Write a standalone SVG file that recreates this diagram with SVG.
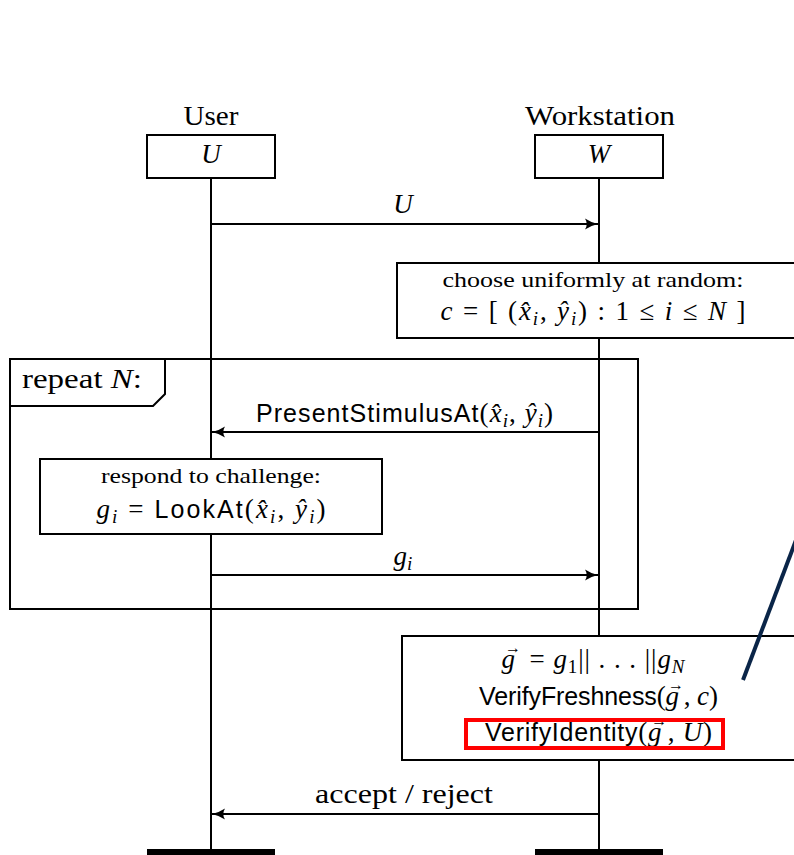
<svg xmlns="http://www.w3.org/2000/svg" width="794" height="855" viewBox="0 0 794 855">
<style>
.ln{stroke:#000;stroke-width:2;fill:none}
.box{stroke:#000;stroke-width:2;fill:#fff}
.rm{font-family:"Liberation Serif","DejaVu Serif",serif;font-size:27px;fill:#000}
.sm{font-family:"Liberation Serif","DejaVu Serif",serif;font-size:22px;fill:#000}
.it{font-style:italic}
.sf{font-family:"Liberation Sans","DejaVu Sans",sans-serif;font-size:25px}
.sub{font-size:19px}
.vec{font-size:16px;font-style:normal}
.bar{stroke:#000;stroke-width:6}
</style>
<defs>
<marker id="ah" viewBox="0 0 14 12" refX="13" refY="6" markerWidth="14" markerHeight="12" markerUnits="userSpaceOnUse" orient="auto">
<path d="M0,0.5 Q6,4.5 13,6 Q6,7.5 0,11.5 Q3.5,6 0,0.5 Z" fill="#000"/>
</marker>
</defs>
<rect width="794" height="855" fill="#fff"/>
<g id="lifelines">
<line class="ln" x1="211" y1="178" x2="211" y2="852"/>
<line class="ln" x1="599" y1="178" x2="599" y2="852"/>
</g>
<g id="user">
<text class="rm" x="211" y="125" text-anchor="middle" textLength="55" lengthAdjust="spacingAndGlyphs">User</text>
<rect class="box" x="147" y="135" width="128" height="43"/>
<text class="rm it" x="211" y="163" text-anchor="middle">U</text>
<line class="bar" x1="147" y1="852" x2="275" y2="852"/>
</g>
<g id="workstation">
<text class="rm" x="600" y="125" text-anchor="middle" textLength="150" lengthAdjust="spacingAndGlyphs">Workstation</text>
<rect class="box" x="535" y="135" width="128" height="43"/>
<text class="rm it" x="599" y="163" text-anchor="middle">W</text>
<line class="bar" x1="535" y1="852" x2="663" y2="852"/>
</g>
<g id="repeat-frame">
<rect x="10" y="359" width="628" height="250" fill="none" stroke="#000" stroke-width="2"/>
<path class="ln" d="M10,406 H153 L165,394 V359"/>
<text class="rm" x="22" y="388" textLength="120" lengthAdjust="spacingAndGlyphs">repeat <tspan class="it">N</tspan>:</text>
</g>
<g id="choose">
<rect class="box" x="397" y="263" width="410" height="75"/>
<text class="sm" x="593" y="287" text-anchor="middle" textLength="301" lengthAdjust="spacingAndGlyphs">choose uniformly at random:</text>
<text class="rm" x="593" y="320" text-anchor="middle" textLength="305" lengthAdjust="spacing"><tspan class="it">c</tspan> = [ (<tspan class="it">x̂</tspan><tspan class="it sub" dy="5">i</tspan><tspan dy="-5">, </tspan><tspan class="it">ŷ</tspan><tspan class="it sub" dy="5">i</tspan><tspan dy="-5">) : 1 ≤ </tspan><tspan class="it">i</tspan> ≤ <tspan class="it">N</tspan> ]</text>
</g>
<g id="respond">
<rect class="box" x="40" y="459" width="342" height="75"/>
<text class="sm" x="211" y="483" text-anchor="middle" textLength="220" lengthAdjust="spacingAndGlyphs">respond to challenge:</text>
<text class="rm" x="211" y="518" text-anchor="middle" textLength="229" lengthAdjust="spacing"><tspan class="it">g</tspan><tspan class="it sub" dy="5">i</tspan><tspan dy="-5"> = </tspan><tspan class="sf">LookAt</tspan>(<tspan class="it">x̂</tspan><tspan class="it sub" dy="5">i</tspan><tspan dy="-5">, </tspan><tspan class="it">ŷ</tspan><tspan class="it sub" dy="5">i</tspan><tspan dy="-5">)</tspan></text>
</g>
<g id="verify">
<rect class="box" x="402" y="636" width="405" height="124"/>
<text class="rm" x="593" y="668" text-anchor="middle" textLength="183" lengthAdjust="spacing"><tspan class="it">g</tspan><tspan class="vec" dx="-11" dy="-15">→</tspan><tspan dy="15"> = </tspan><tspan class="it">g</tspan><tspan class="sub" dy="5">1</tspan><tspan dy="-5">|| . . . ||</tspan><tspan class="it">g</tspan><tspan class="it sub" dy="5">N</tspan></text>
<text class="rm" x="598.5" y="705" text-anchor="middle" textLength="239" lengthAdjust="spacing"><tspan class="sf">VerifyFreshness</tspan>(<tspan class="it">g</tspan><tspan class="vec" dx="-11" dy="-15">→</tspan><tspan dy="15">, </tspan><tspan class="it">c</tspan>)</text>
<text class="rm" x="598.5" y="741" text-anchor="middle" textLength="227" lengthAdjust="spacing"><tspan class="sf">VerifyIdentity</tspan>(<tspan class="it">g</tspan><tspan class="vec" dx="-11" dy="-15">→</tspan><tspan dy="15">, </tspan><tspan class="it">U</tspan>)</text>
<rect x="466" y="720" width="257" height="28" fill="none" stroke="#f00" stroke-width="4"/>
</g>
<g id="connectors">
<line class="ln" x1="211" y1="224" x2="598" y2="224" marker-end="url(#ah)"/>
<text class="rm it" x="403" y="213" text-anchor="middle">U</text>
<line class="ln" x1="599" y1="432" x2="212" y2="432" marker-end="url(#ah)"/>
<text class="rm" x="404.5" y="422" text-anchor="middle" textLength="297" lengthAdjust="spacing"><tspan class="sf">PresentStimulusAt</tspan>(<tspan class="it">x̂</tspan><tspan class="it sub" dy="5">i</tspan><tspan dy="-5">, </tspan><tspan class="it">ŷ</tspan><tspan class="it sub" dy="5">i</tspan><tspan dy="-5">)</tspan></text>
<line class="ln" x1="211" y1="575" x2="598" y2="575" marker-end="url(#ah)"/>
<text class="rm" x="403" y="565" text-anchor="middle"><tspan class="it">g</tspan><tspan class="it sub" dy="5">i</tspan></text>
<line class="ln" x1="599" y1="814" x2="212" y2="814" marker-end="url(#ah)"/>
<text class="rm" x="404" y="803" text-anchor="middle" textLength="178" lengthAdjust="spacingAndGlyphs">accept / reject</text>
<line x1="743" y1="680" x2="796" y2="540" stroke="#0a2548" stroke-width="4"/>
</g>
</svg>
